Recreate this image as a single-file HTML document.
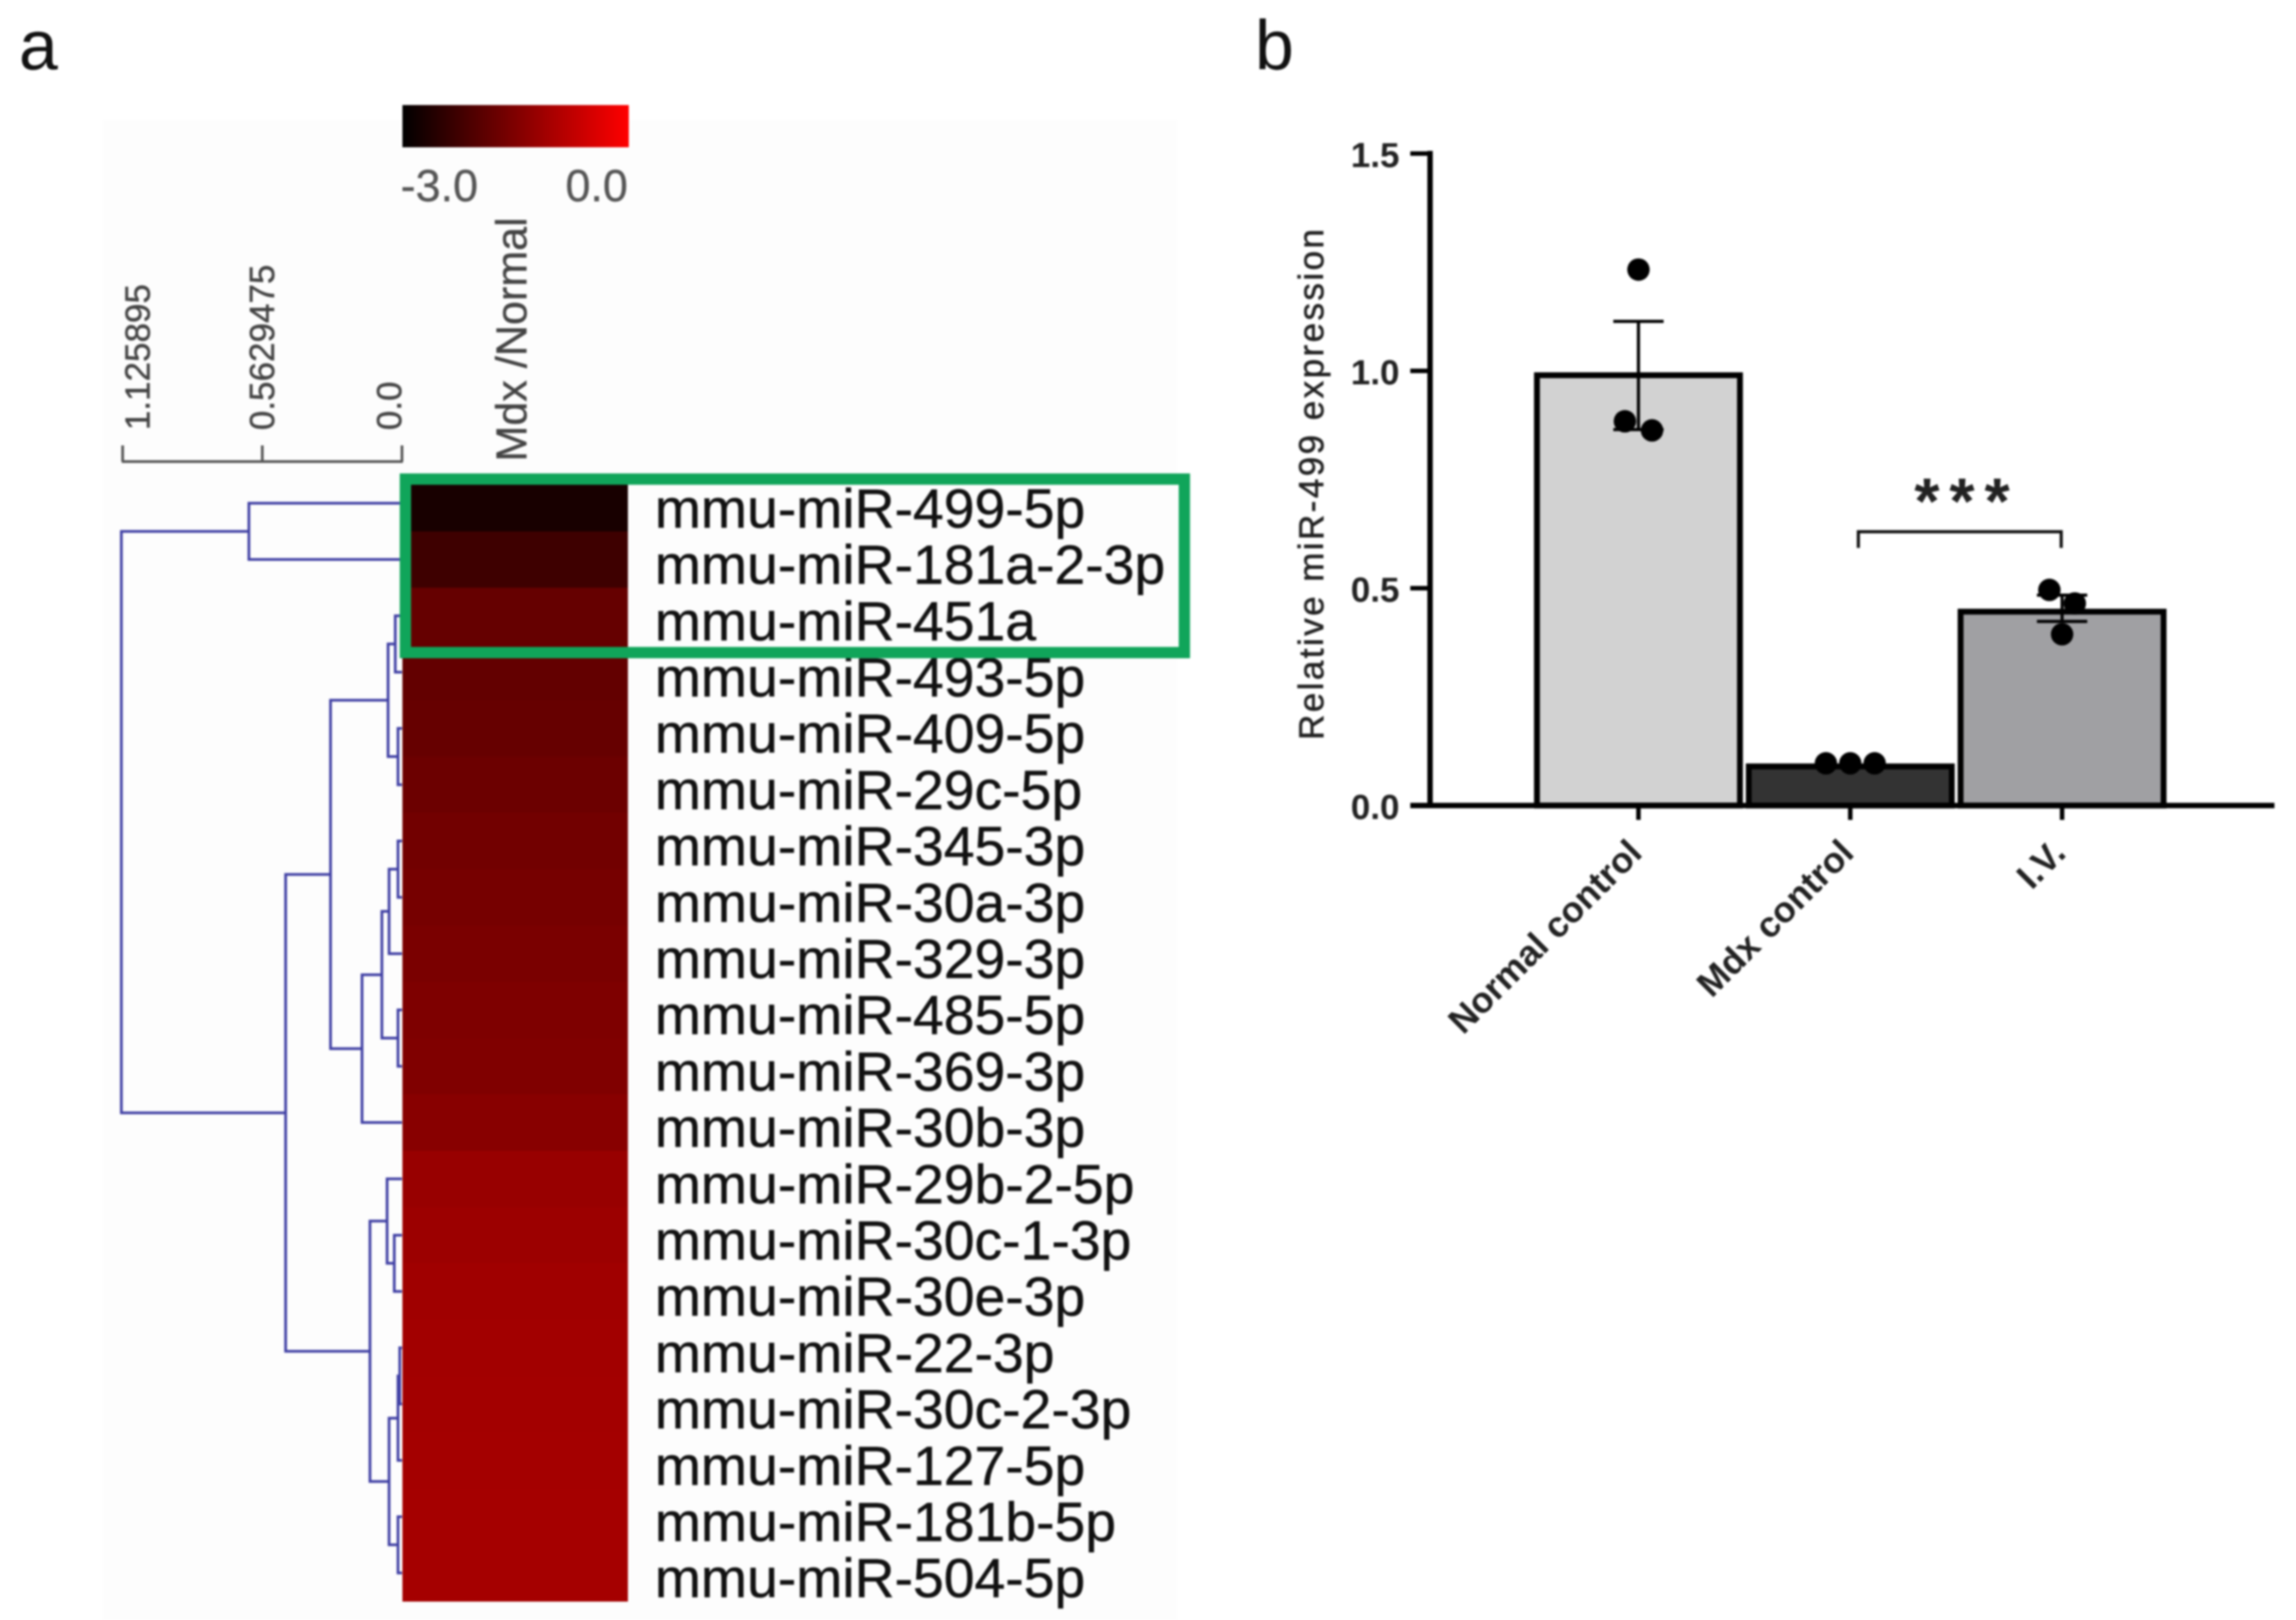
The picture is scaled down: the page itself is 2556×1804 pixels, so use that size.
<!DOCTYPE html>
<html lang="en">
<head>
<meta charset="utf-8">
<title>miR-499 heatmap and expression chart</title>
<style>
html,body{margin:0;padding:0;background:#fff;width:2556px;height:1804px;overflow:hidden}
svg{display:block;filter:blur(1px)}
text{font-family:"Liberation Sans",Arial,sans-serif}
</style>
</head>
<body>
<svg id="figure" xmlns="http://www.w3.org/2000/svg" width="2556" height="1804" viewBox="0 0 2556 1804">
  <defs>
    <linearGradient id="scaleGradient" x1="0" x2="1" y1="0" y2="0">
      <stop offset="0" stop-color="#000"/>
      <stop offset="1" stop-color="#f00"/>
    </linearGradient>
  </defs>
  <rect width="2556" height="1804" fill="#fff"/>
  <rect x="115" y="134" width="1195" height="1670" fill="#fdfdfd"/>
  <text x="21" y="77" font-size="78" fill="#111">a</text>
  <text x="1397" y="77" font-size="78" fill="#111">b</text>

  <rect x="448" y="117" width="252" height="47" fill="url(#scaleGradient)"/>
  <text x="446" y="224" font-size="50" fill="#555" stroke="#555" stroke-width="0.4">-3.0</text>
  <text x="699" y="224" font-size="50" fill="#555" stroke="#555" stroke-width="0.4" text-anchor="end">0.0</text>
  <text transform="translate(586 514) rotate(-90)" font-size="48" fill="#444" stroke="#444" stroke-width="0.4">Mdx /Normal</text>

  <g id="dendroAxis"></g>
  <g id="dendrogram" fill="none" stroke="#4040a4" stroke-width="3"></g>
  <g id="heatmap"></g>
  <g id="rowLabels"></g>
  <rect x="451.3" y="533.5" width="867.2" height="193.2" fill="none" stroke="#10a55a" stroke-width="12.6"/>

  <g id="barChart"></g>
</svg>
<script>
/* Panel a: heatmap data */
const rowNames = ["mmu-miR-499-5p","mmu-miR-181a-2-3p","mmu-miR-451a","mmu-miR-493-5p","mmu-miR-409-5p","mmu-miR-29c-5p","mmu-miR-345-3p","mmu-miR-30a-3p","mmu-miR-329-3p","mmu-miR-485-5p","mmu-miR-369-3p","mmu-miR-30b-3p","mmu-miR-29b-2-5p","mmu-miR-30c-1-3p","mmu-miR-30e-3p","mmu-miR-22-3p","mmu-miR-30c-2-3p","mmu-miR-127-5p","mmu-miR-181b-5p","mmu-miR-504-5p"];
const rowValues = [-2.72,-2.27,-1.81,-1.84,-1.80,-1.73,-1.66,-1.61,-1.56,-1.52,-1.49,-1.40,-1.21,-1.16,-1.12,-1.09,-1.08,-1.07,-1.06,-1.06];

/* Panel a: dendrogram merges; ids 0-19 are rows, id 20+k is merge k */
const mergeLeft  = [0,2,4,21,6,24,9,25,27,23,13,12,15,32,18,33,31,29,20];
const mergeRight = [1,3,5,22,7,8,10,26,11,28,14,30,16,17,19,34,35,36,37];
const mergeHeight = [0.617,0.027,0.016,0.056,0.016,0.052,0.016,0.081,0.161,0.288,0.031,0.060,0.009,0.016,0.016,0.052,0.129,0.469,1.131];
const distanceTicks = [1.125895,0.5629475,0];
const distanceTickLabels = ["1.125895","0.5629475","0.0"];

/* Panel b: bar chart data */
const categories = ["Normal control","Mdx control","I.V."];
const barMeans = [0.99,0.09,0.446];
const errorUpper = [1.114,null,0.484];
const errorLower = [0.865,null,0.4235];
const dotValues = [[1.233,0.884,0.863],[0.097,0.097,0.097],[0.496,0.465,0.394]];
const dotJitter = [[0,-0.064,0.064],[-0.115,0,0.115],[-0.06,0.06,0]];
const barFills = ["#d2d2d2","#333333","#a0a0a3"];
const valueTicks = [0,0.5,1,1.5];
const valueTickLabels = ["0.0","0.5","1.0","1.5"];
const bracketValue = 0.63;
const bracketFrom = 1;
const bracketTo = 2;

const NS = "http://www.w3.org/2000/svg";
function make(tag, attrs, parent, text) {
  const node = document.createElementNS(NS, tag);
  for (const k in attrs) node.setAttribute(k, attrs[k]);
  if (text !== undefined) node.textContent = text;
  parent.appendChild(node);
  return node;
}

/* Heatmap scales */
const rowTop = i => 529 + 62.7 * i;
const rowMid = i => rowTop(i) + 31.35;
const rowColor = v => "rgb(" + Math.max(0, Math.min(255, Math.round((v + 3) / 3 * 255))) + ",0,0)";
const distX = d => 447.5 - d * 276.2;

const heatmap = document.getElementById("heatmap");
const rowLabels = document.getElementById("rowLabels");
rowValues.forEach((v, i) => {
  const cell = make("rect", {x:448, y:rowTop(i), width:251, height:63.2, fill:rowColor(v)}, heatmap);
  
  
});
rowNames.forEach((name, i) => {
  const t = make("text", {x:729, y:rowMid(i) + 27, "font-size":61.6, fill:"#111", stroke:"#111", "stroke-width":0.5}, rowLabels, name);
  
  
});

/* Dendrogram */
const nodeX = {};
const nodeY = {};
rowValues.forEach((v, i) => { nodeX[i] = distX(0); nodeY[i] = rowMid(i); });
const dendrogram = document.getElementById("dendrogram");
mergeHeight.forEach((h, k) => {
  const a = mergeLeft[k], b = mergeRight[k], id = 20 + k, x = distX(h);
  nodeX[id] = x;
  nodeY[id] = (nodeY[a] + nodeY[b]) / 2;
  const p = make("path", {d:"M" + nodeX[a] + " " + nodeY[a] + "H" + x + "V" + nodeY[b] + "H" + nodeX[b]}, dendrogram);
  
  
});

/* Dendrogram axis */
const dendroAxis = document.getElementById("dendroAxis");
const axisLine = make("line", {x1:distX(distanceTicks[0]) - 1, x2:distX(0) + 1, y1:514, y2:514, stroke:"#555", "stroke-width":3}, dendroAxis);


const axisLabelGap = d => d > 1 ? 30 : (d > 0 ? 13 : -1);
distanceTicks.forEach((d, i) => {
  const x = distX(d);
  const tick = make("line", {x1:x, x2:x, y1:496, y2:514, stroke:"#555", "stroke-width":3}, dendroAxis);
  
  
  const lab = make("text", {transform:"translate(" + (x + axisLabelGap(d)) + " 479) rotate(-90)", "font-size":39, fill:"#444", stroke:"#444", "stroke-width":0.5}, dendroAxis, distanceTickLabels[i]);
  
  
});

/* Bar chart scales */
const valueY = v => 897 - v * 484;
const catX = i => 1824 + 235.8 * i;
const barChart = document.getElementById("barChart");

barMeans.forEach((m, i) => {
  const bar = make("rect", {x:catX(i) - 113, y:valueY(m), width:226, height:valueY(0) - valueY(m), fill:barFills[i], stroke:"#000", "stroke-width":6.5}, barChart);
  
  
});

errorUpper.forEach((up, i) => {
  if (up === null) return;
  const cx = catX(i);
  const stem = make("line", {x1:cx, x2:cx, y1:valueY(up), y2:valueY(errorLower[i]), stroke:"#000", "stroke-width":3.5}, barChart);
  
  
  [up, errorLower[i]].forEach(v => {
    const cap = make("line", {x1:cx - 28, x2:cx + 28, y1:valueY(v), y2:valueY(v), stroke:"#000", "stroke-width":3.5}, barChart);
    
    
  });
});

dotValues.forEach((vals, i) => {
  vals.forEach((v, j) => {
    const dot = make("circle", {cx:catX(i + dotJitter[i][j]), cy:valueY(v), r:12.5, fill:"#000"}, barChart);
    
    
  });
});

/* Axes */
const yAxis = make("line", {x1:1592, x2:1592, y1:valueY(1.5) - 3, y2:valueY(0) + 3, stroke:"#000", "stroke-width":6}, barChart);


const xAxis = make("line", {x1:1570, x2:2532, y1:valueY(0), y2:valueY(0), stroke:"#000", "stroke-width":6}, barChart);



valueTicks.forEach((v, i) => {
  const tick = make("line", {x1:1570, x2:1592, y1:valueY(v), y2:valueY(v), stroke:"#000", "stroke-width":5}, barChart);
  
  
  const lab = make("text", {x:1558, y:valueY(v) + 15, "font-size":39, "font-weight":"bold", fill:"#222", "text-anchor":"end"}, barChart, valueTickLabels[i]);
  
  
});

categories.forEach((name, i) => {
  const x = catX(i);
  const tick = make("line", {x1:x, x2:x, y1:valueY(0), y2:913, stroke:"#000", "stroke-width":5}, barChart);
  
  
  const lab = make("text", {transform:"translate(" + (x + 6) + " 952) rotate(-45)", "font-size":40, "font-weight":"bold", fill:"#222", "text-anchor":"end"}, barChart, name);
  
  
});

const yTitle = make("text", {transform:"translate(1473 824) rotate(-90)", "font-size":39, fill:"#222", stroke:"#222", "stroke-width":0.6, textLength:569, lengthAdjust:"spacing"}, barChart, "Relative miR-499 expression");



/* Significance bracket */
const bx1 = catX(bracketFrom) + 9, bx2 = catX(bracketTo) - 1, by = valueY(bracketValue);
const bracket = make("path", {d:"M" + bx1 + " " + (by + 18) + "V" + by + "H" + bx2 + "V" + (by + 18), fill:"none", stroke:"#111", "stroke-width":3.5}, barChart);


const stars = make("text", {x:(bx1 + bx2) / 2 + 8, y:by - 9, "font-size":72, "font-weight":"bold", fill:"#222", "text-anchor":"middle", "letter-spacing":"11"}, barChart, "***");


</script>
</body>
</html>
